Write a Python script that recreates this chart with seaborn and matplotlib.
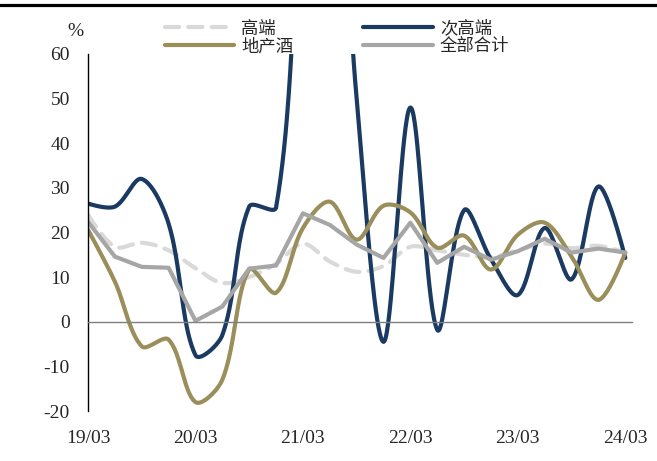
import numpy as np
import pandas as pd
import matplotlib
matplotlib.use('Agg')
import matplotlib.pyplot as plt
from matplotlib.lines import Line2D
import seaborn as sns

# quarterly growth, %, 19Q1 .. 24Q1
quarters = ['19/03', '19/06', '19/09', '19/12', '20/03', '20/06', '20/09', '20/12',
            '21/03', '21/06', '21/09', '21/12', '22/03', '22/06', '22/09', '22/12',
            '23/03', '23/06', '23/09', '23/12', '24/03']
tick_labels = ['19/03', '20/03', '21/03', '22/03', '23/03', '24/03']

high_end = [24, 16.8, 17.7, 16, 12, 8.7, 10, 13, 17.5, 13.5, 11.2,
            12.5, 16.8, 16, 15, 14.5, 16, 17.5, 16.5, 17, 15.5]
sub_high = [26.5, 25.8, 32, 22, -7.5, -3, 25.8, 25.6, 95, 130, 50,
            -4.5, 48, -1.8, 25, 14, 6, 21, 9.5, 30.3, 14.3]
regional = [20.6, 9, -5.5, -4, -18, -13, 11.7, 6.5, 21, 26.9, 18.4,
            26, 24.5, 16.6, 19.3, 11.7, 19.5, 22.2, 14.6, 4.9, 15.5]
total = [22.4, 14.6, 12.3, 12.1, 0.2, 3.4, 11.9, 12.6, 24.3, 21.7, 17.3,
         14.3, 22.2, 13.2, 16.8, 13.9, 15.8, 18.6, 15.5, 16.4, 15.5]

# rough screen scale (px per quarter, px per %) so the smoothing behaves like excel
SX, SY = 26.85, 4.46


def smooth(values, n=40):
    # excel-like smoothed line: bezier pieces, control arms weighted by segment length
    P = np.column_stack([np.arange(len(values)) * SX, np.asarray(values, float) * SY])
    c_in = P.copy()
    c_out = P.copy()
    for i in range(1, len(P) - 1):
        d1 = np.hypot(*(P[i] - P[i - 1]))
        d2 = np.hypot(*(P[i + 1] - P[i]))
        T = P[i + 1] - P[i - 1]
        c_in[i] = P[i] - T / 3 * d1 / (d1 + d2)
        c_out[i] = P[i] + T / 3 * d2 / (d1 + d2)
    t = np.linspace(0, 1, n, endpoint=False)[:, None]
    pts = []
    for i in range(len(P) - 1):
        b = ((1 - t)**3 * P[i] + 3 * (1 - t)**2 * t * c_out[i]
             + 3 * (1 - t) * t**2 * c_in[i + 1] + t**3 * P[i + 1])
        pts.append(b)
    pts.append(P[-1:])
    pts = np.vstack(pts)
    return pd.DataFrame({'x': pts[:, 0] / SX, 'y': pts[:, 1] / SY})


sns.set_style('white')
plt.rcParams['font.family'] = ['Liberation Serif', 'Noto Sans CJK SC']
plt.rcParams['axes.unicode_minus'] = False

fig = plt.figure(figsize=(6.57, 4.61), dpi=100)
ax = fig.add_axes([88 / 657, 1 - 411 / 461, 544 / 657, 357 / 461])

lw = 3
d = smooth(high_end)
sns.lineplot(data=d, x='x', y='y', ax=ax, color='#d9d9d9', lw=lw, sort=False,
             estimator=None, label='高端', linestyle=(0, (3.4, 2.2)),
             dash_capstyle='round')
d = smooth(sub_high)
sns.lineplot(data=d, x='x', y='y', ax=ax, color='#1a3a62', lw=lw, sort=False,
             estimator=None, label='次高端')
d = smooth(regional)
sns.lineplot(data=d, x='x', y='y', ax=ax, color='#9a8f5a', lw=lw, sort=False,
             estimator=None, label='地产酒')
sns.lineplot(x=np.arange(len(total)), y=total, ax=ax, color='#a6a6a6', lw=lw,
             sort=False, estimator=None, label='全部合计')

ax.set_xlim(0, 20.25)
ax.set_ylim(-20, 60)
ax.set_yticks(range(-20, 61, 10))
ax.set_xticks(range(0, len(quarters), 4))
ax.set_xticklabels(tick_labels)
ax.set_xlabel('')
ax.set_ylabel('')

for s in ['top', 'right']:
    ax.spines[s].set_visible(False)
ax.spines['left'].set_color('black')
ax.spines['left'].set_linewidth(1)
ax.spines['bottom'].set_position(('data', 0))
ax.spines['bottom'].set_color('#7f7f7f')
ax.spines['bottom'].set_linewidth(1)
ax.tick_params(axis='y', direction='in', length=5, width=1, color='black',
               labelsize=14, pad=13)
ax.tick_params(axis='x', direction='in', length=6, width=1, color='#7f7f7f',
               labelsize=14, pad=78)

handles, labels = ax.get_legend_handles_labels()
if ax.get_legend() is not None:
    ax.get_legend().remove()
order = [0, 2, 1, 3]
fig.legend([handles[i] for i in order], [labels[i] for i in order],
           ncol=2, loc='center', bbox_to_anchor=(337 / 657, 1 - 38 / 461),
           frameon=False, fontsize=12.5, handlelength=4.0, handletextpad=0.4,
           columnspacing=4.05, labelspacing=0.08, borderpad=0)

fig.text(75 / 657, 1 - 31 / 461, '%', ha='center', va='center', fontsize=14)
fig.add_artist(Line2D([0, 1], [1 - 5.5 / 461] * 2, transform=fig.transFigure,
                      color='black', lw=2.3))

fig.savefig('out.png', dpi=100)
